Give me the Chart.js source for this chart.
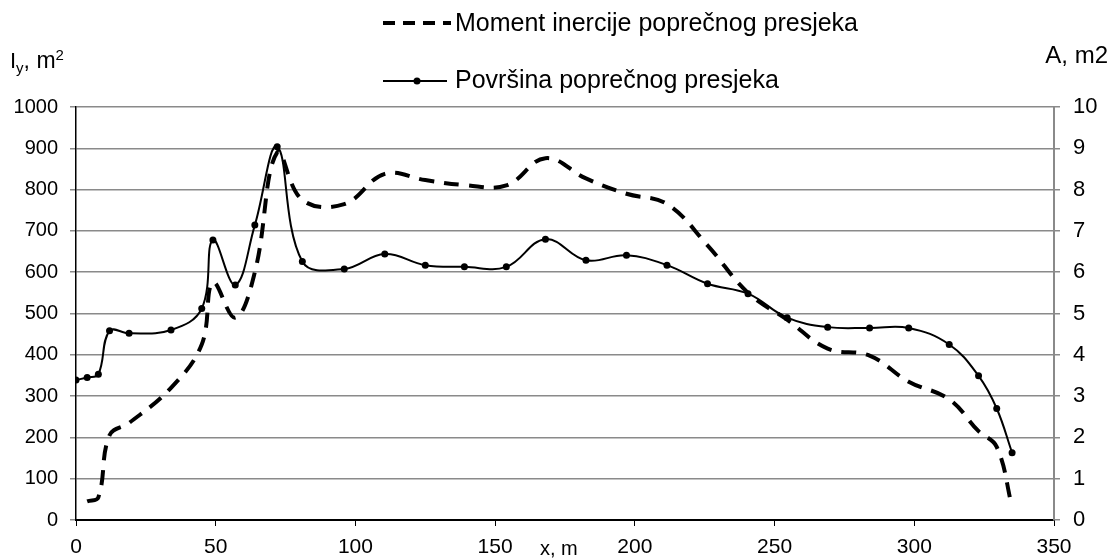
<!DOCTYPE html>
<html>
<head>
<meta charset="utf-8">
<script src="https://cdn.jsdelivr.net/npm/chart.js@4/dist/chart.umd.min.js"></script>
<style>
  html, body { margin: 0; padding: 0; background: #fff; }
  #wrap { width: 1112px; height: 558px; }
</style>
</head>
<body>
<div id="wrap"><canvas id="chart"></canvas></div>
<script>
const xPositions = [0, 4, 8, 12, 19, 34, 45, 49, 57, 64, 72, 81, 96, 110.5, 125, 139, 154, 168, 182.5, 197, 211.5, 226, 240.5, 254.5, 269, 284, 298, 312.5, 323, 329.5, 335];
const momentValues = [null, 45, 55, 205, 235, 320, 425, 575, 490, 600, 890, 775, 765, 838, 823, 811, 810, 876, 827, 790, 765, 665, 550, 485, 415, 398, 335, 292, 215, 177, 32];
const areaValues = [3.39, 3.45, 3.53, 4.58, 4.52, 4.6, 5.12, 6.78, 5.69, 7.14, 9.04, 6.26, 6.08, 6.44, 6.17, 6.13, 6.13, 6.8, 6.29, 6.41, 6.17, 5.72, 5.48, 4.9, 4.67, 4.65, 4.65, 4.25, 3.49, 2.7, 1.63];
const momentLabel = 'Moment inercije poprečnog presjeka';
const areaLabel = 'Površina poprečnog presjeka';

const FONT = "'Liberation Sans', Arial, sans-serif";

const toPoints = (vals) => xPositions.map((x, i) => ({ x: x, y: vals[i] }));

// draws text pieces one after another, each with its own size and baseline shift
function drawRun(ctx, x, baseline, parts) {
  parts.forEach(p => {
    ctx.font = p.size + 'px ' + FONT;
    ctx.fillText(p.text, x, baseline + (p.shift || 0));
    x += ctx.measureText(p.text).width;
  });
}

// legend and axis titles, drawn by hand like the original
const decorations = {
  id: 'decorations',
  afterDraw(chart) {
    const ctx = chart.ctx;
    ctx.save();
    ctx.fillStyle = '#000';
    ctx.strokeStyle = '#000';

    // legend entry 1: dashed
    ctx.lineWidth = 4;
    ctx.setLineDash([12, 8]);
    ctx.beginPath();
    ctx.moveTo(383, 23);
    ctx.lineTo(451, 23);
    ctx.stroke();
    ctx.setLineDash([]);
    ctx.font = '25px ' + FONT;
    ctx.textBaseline = 'middle';
    ctx.textAlign = 'left';
    ctx.fillText(momentLabel, 455, 24);

    // legend entry 2: solid with dot
    ctx.lineWidth = 2;
    ctx.beginPath();
    ctx.moveTo(383, 81);
    ctx.lineTo(447, 81);
    ctx.stroke();
    ctx.beginPath();
    ctx.arc(417, 81, 3.5, 0, Math.PI * 2);
    ctx.fill();
    ctx.fillText(areaLabel, 455, 81);

    // left axis title: I_y, m^2
    ctx.textBaseline = 'alphabetic';
    drawRun(ctx, 10, 68, [
      { text: 'I', size: 22 },
      { text: 'y', size: 15, shift: 5 },
      { text: ', m', size: 23 },
      { text: '2', size: 15, shift: -8 }
    ]);

    // right axis title
    ctx.font = '24px ' + FONT;
    ctx.textAlign = 'right';
    ctx.fillText('A, m2', 1108, 63);

    // x axis title
    ctx.font = '20px ' + FONT;
    ctx.textAlign = 'left';
    ctx.textBaseline = 'middle';
    ctx.fillText('x, m', 540, 549);
    ctx.restore();
  }
};

new Chart(document.getElementById('chart'), {
  type: 'line',
  data: {
    datasets: [{
      label: momentLabel,
      data: toPoints(momentValues),
      yAxisID: 'yLeft',
      borderColor: '#000',
      borderWidth: 4,
      borderDash: [15, 10],
      pointRadius: 0,
      tension: 0.4,
      fill: false
    },
    {
      label: areaLabel,
      data: toPoints(areaValues),
      yAxisID: 'yRight',
      borderColor: '#000',
      backgroundColor: '#000',
      borderWidth: 2,
      pointRadius: 3.5,
      pointBorderWidth: 0,
      tension: 0.4,
      fill: false
    }]
  },
  options: {
    responsive: true,
    maintainAspectRatio: false,
    animation: false,
    layout: { padding: { top: 107, left: 0, right: 0, bottom: 0 } },
    plugins: {
      legend: { display: false },
      tooltip: { enabled: false }
    },
    scales: {
      x: {
        type: 'linear',
        min: 0,
        max: 350,
        afterFit(scale) { scale.height = 38; },
        ticks: {
          stepSize: 50,
          color: '#000',
          padding: 9,
          font: { family: FONT, size: 21 },
          callback: (v) => String(v)
        },
        grid: { drawOnChartArea: false, drawTicks: true, tickLength: 6, color: '#000' },
        border: { color: '#000', width: 2 }
      },
      yLeft: {
        position: 'left',
        min: 0,
        max: 1000,
        afterFit(scale) { scale.width = 76; },
        ticks: {
          stepSize: 100,
          color: '#000',
          padding: 12,
          font: { family: FONT, size: 20 },
          callback: (v) => String(v)
        },
        grid: { color: '#8a8a8a', lineWidth: 1.5, tickLength: 6 },
        border: { color: '#000', width: 1.5 }
      },
      yRight: {
        position: 'right',
        min: 0,
        max: 10,
        afterFit(scale) { scale.width = 58; },
        ticks: {
          stepSize: 1,
          color: '#000',
          padding: 13,
          font: { family: FONT, size: 22 },
          callback: (v) => String(v)
        },
        grid: { drawOnChartArea: false, color: '#8a8a8a', lineWidth: 1.5, tickLength: 6 },
        border: { color: '#8a8a8a', width: 2 }
      }
    }
  },
  plugins: [decorations]
});
</script>
</body>
</html>
